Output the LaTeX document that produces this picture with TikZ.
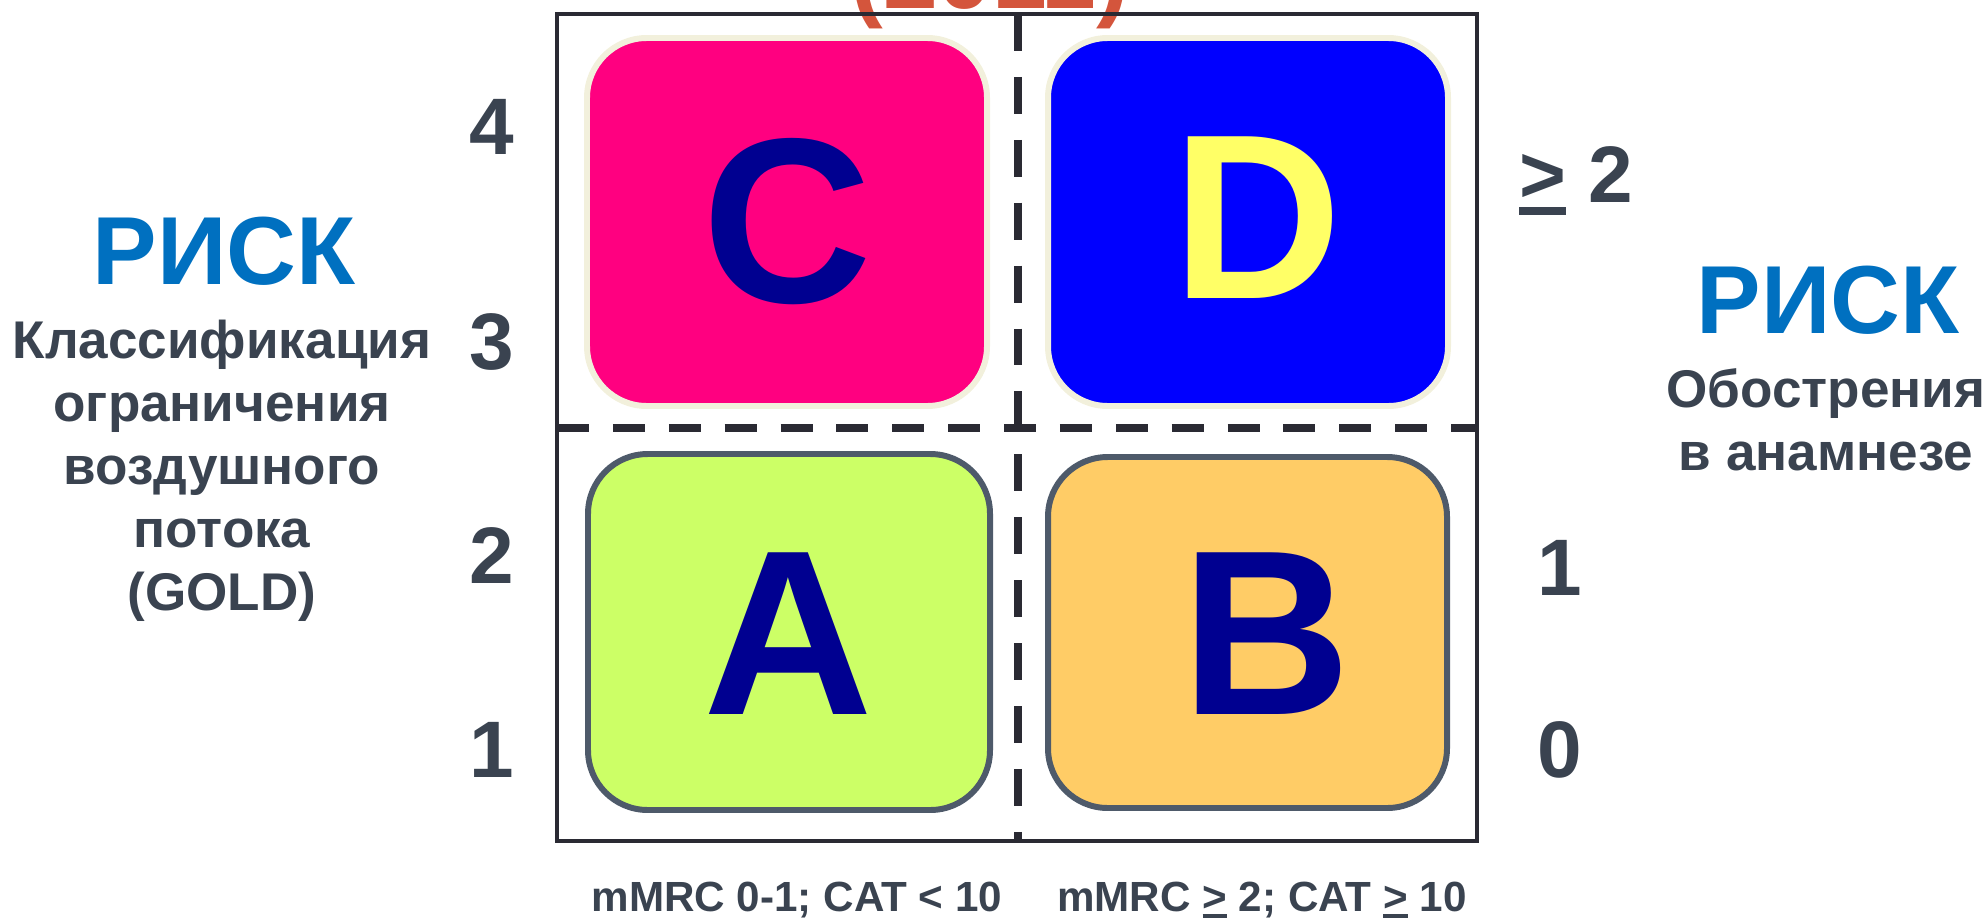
\documentclass[tikz,border=0pt]{standalone}
\usepackage{fontspec}
\setmainfont{Liberation Sans}
\definecolor{riskblue}{HTML}{0070C0}
\definecolor{ink}{HTML}{3A4350}
\definecolor{frame}{HTML}{2A2A33}
\definecolor{cream}{HTML}{F2F0DC}
\definecolor{slate}{HTML}{4E5A6A}
\definecolor{navy}{HTML}{000090}
\definecolor{pinkC}{HTML}{FF0080}
\definecolor{blueD}{HTML}{0000FF}
\definecolor{yellowD}{HTML}{FFFF66}
\definecolor{greenA}{HTML}{CCFF66}
\definecolor{orangeB}{HTML}{FFCC66}
\definecolor{yearred}{HTML}{D4553C}
\newcommand{\ulgt}{\mbox{\rlap{\rule[-0.16em]{0.58em}{0.1em}}>}}
\begin{document}
\begin{tikzpicture}[x=0.1mm, y=-0.1mm,
  box/.style={line width=1.7pt, rounded corners=17pt},
  letter/.style={anchor=base, inner sep=0pt, font=\bfseries\fontsize{66.9}{70}\selectfont},
  digit/.style={anchor=base, inner sep=0pt, text=ink, font=\bfseries\fontsize{22.8}{24}\selectfont},
  risk/.style={anchor=base, inner sep=0pt, text=riskblue, font=\bfseries\fontsize{27.5}{30}\selectfont},
  caption/.style={anchor=base, inner sep=0pt, align=center, text=ink, font=\bfseries\fontsize{15.1}{17.9}\selectfont},
  axis/.style={anchor=base, inner sep=0pt, text=ink, font=\bfseries\fontsize{12}{14}\selectfont}]
\useasboundingbox (0,0) rectangle (1987,917);
\clip (0,0) rectangle (1987,917);
\node[anchor=base, inner sep=0pt, text=yearred, font=\bfseries\fontsize{28}{30}\selectfont] (year) at (990,9) {(2011)};
\draw[line width=1.28pt, frame] (557,14) rectangle (1477,841);
\draw[box, draw=cream, fill=pinkC] (587,38) rectangle (987,406);
\draw[box, draw=cream, fill=blueD] (1048,38) rectangle (1448,406);
\draw[box, draw=slate, fill=greenA] (588,454) rectangle (990,810);
\draw[box, draw=slate, fill=orangeB] (1048,457) rectangle (1447,808);
\draw[frame, line width=2.3pt, dash pattern=on 9.1pt off 6.8pt] (557,428) -- (1477,428);
\draw[frame, line width=2pt, dash pattern=on 10.5pt off 7.4pt] (1018,14) -- (1018,841);
\node[letter, text=navy] (C) at (787,302) {C};
\node[letter, text=yellowD] (D) at (1257,298) {D};
\node[letter, text=navy] (A) at (788,714) {A};
\node[letter, text=navy] (B) at (1266,714) {B};
\node[digit] (y4) at (492,154) {4};
\node[digit] (y3) at (492,369) {3};
\node[digit] (y2) at (492,583) {2};
\node[digit] (y1) at (492,777) {1};
\node[digit] (e2) at (1576,202) {\ulgt{} 2};
\node[digit] (e1) at (1560,595) {1};
\node[digit] (e0) at (1560,777) {0};
\node[risk] (riskL) at (224,284) {РИСК};
\node[caption] (gold) at (222,610) {Классификация\\ограничения\\воздушного\\потока\\(GOLD)};
\node[risk] (riskR) at (1828,333) {РИСК};
\node[caption] (exac) at (1826,470) {Обострения\\в анамнезе};
\node[axis] (low) at (797,911) {mMRC 0-1; CAT < 10};
\node[axis] (high) at (1262,911) {mMRC \ulgt{} 2; CAT \ulgt{} 10};
\end{tikzpicture}
\end{document}
